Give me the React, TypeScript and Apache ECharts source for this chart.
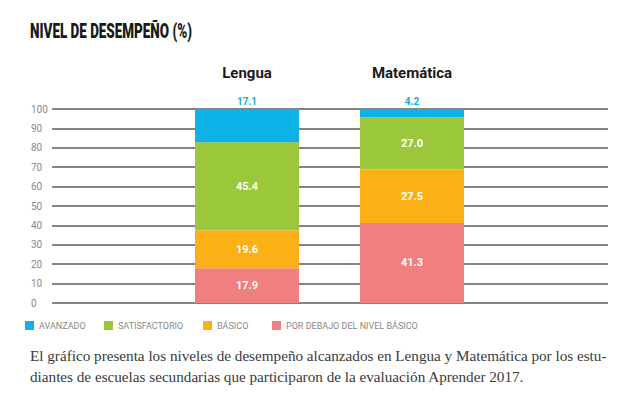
import React, { useEffect, useRef } from "react";
import * as echarts from "echarts";

const categories = ["Lengua", "Matemática"];
const seriesNames = ["POR DEBAJO DEL NIVEL BÁSICO", "BÁSICO", "SATISFACTORIO", "AVANZADO"];
const porDebajo = [17.9, 41.3];
const basico = [19.6, 27.5];
const satisfactorio = [45.4, 27.0];
const avanzado = [17.1, 4.2];
const yTicks = { min: 0, max: 100, interval: 10 };
const colors = ["#f08080", "#fbb116", "#9bc83b", "#0db2e6"];
const title = "NIVEL DE DESEMPEÑO (%)";
const captionLines = [
  "El gráfico presenta los niveles de desempeño alcanzados en Lengua y Matemática por los estu-",
  "diantes de escuelas secundarias que participaron de la evaluación Aprender 2017.",
];

function measure(text: string, font: string): number {
  const c = document.createElement("canvas").getContext("2d");
  if (!c) return 1;
  c.font = font;
  return c.measureText(text).width || 1;
}

export default function App() {
  const ref = useRef<HTMLDivElement>(null);
  useEffect(() => {
    if (!ref.current) return;
    const chart = echarts.init(ref.current, undefined, { renderer: "svg" });
    const values = [porDebajo, basico, satisfactorio, avanzado];
    const legendLeft = [25, 104, 203, 272];
    const legendOrder = ["AVANZADO", "SATISFACTORIO", "BÁSICO", "POR DEBAJO DEL NIVEL BÁSICO"];
    const titleFont = "900 20px Roboto";
    const titleScale = 162 / measure(title, titleFont);
    const capFont = "15px 'Liberation Serif'";
    const capScale = 577 / measure(captionLines[0], capFont);
    chart.setOption({
      animation: false,
      backgroundColor: "#ffffff",
      grid: [
        { left: 52, right: 32, top: 109, bottom: 92 },
        { left: 164.5, width: 330, top: 109, bottom: 92 },
      ],
      xAxis: [
        { type: "category", gridIndex: 0, data: [], show: false },
        {
          type: "category",
          gridIndex: 1,
          data: categories,
          position: "top",
          axisLine: { show: false },
          axisTick: { show: false },
          axisLabel: {
            margin: 29,
            color: "#1a1a1a",
            fontSize: 15,
            fontWeight: "bold",
            fontFamily: "Roboto",
          },
        },
      ],
      yAxis: [
        {
          type: "value",
          gridIndex: 0,
          min: yTicks.min,
          max: yTicks.max,
          interval: yTicks.interval,
          axisLine: { show: false },
          axisTick: { show: false },
          axisLabel: { align: "left", margin: 21, color: "#888", fontSize: 10, fontFamily: "Roboto" },
          splitLine: { lineStyle: { color: "#5a5a5a", width: 1.5 } },
        },
        {
          type: "value",
          gridIndex: 1,
          min: yTicks.min,
          max: yTicks.max,
          show: false,
          splitLine: { show: false },
        },
      ],
      legend: legendOrder.map((name, i) => ({
        data: [name],
        left: legendLeft[i],
        top: 321,
        icon: "rect",
        itemWidth: 9,
        itemHeight: 9,
        itemGap: 10,
        padding: 0,
        textStyle: { color: "#888", fontSize: 9, fontFamily: "Roboto" },
      })),
      graphic: [
        {
          type: "text",
          x: 30,
          y: 21,
          scaleX: titleScale,
          style: { text: title, fill: "#1a1a1a", font: titleFont, verticalAlign: "top" },
        },
        ...captionLines.map((line, i) => ({
          type: "text",
          x: 30,
          y: 349 + i * 21,
          scaleX: capScale,
          style: { text: line, fill: "#3a3a3a", font: capFont, verticalAlign: "top" },
        })),
      ],
      series: values.map((v, i) => ({
        type: "bar",
        name: seriesNames[i],
        stack: "total",
        xAxisIndex: 1,
        yAxisIndex: 1,
        barWidth: 104,
        data: v,
        itemStyle: { color: colors[i] },
        label: {
          show: true,
          position: i === 3 ? "top" : "inside",
          distance: 3,
          color: i === 3 ? "#1aa9dc" : "#ffffff",
          fontSize: i === 3 ? 10 : 11,
          fontWeight: "bold",
          fontFamily: "Roboto",
          formatter: (p: any) => Number(p.value).toFixed(1),
        },
      })),
    });
    return () => chart.dispose();
  }, []);
  return <div ref={ref} style={{ position: "absolute", left: 0, top: 0, width: 640, height: 395 }} />;
}
